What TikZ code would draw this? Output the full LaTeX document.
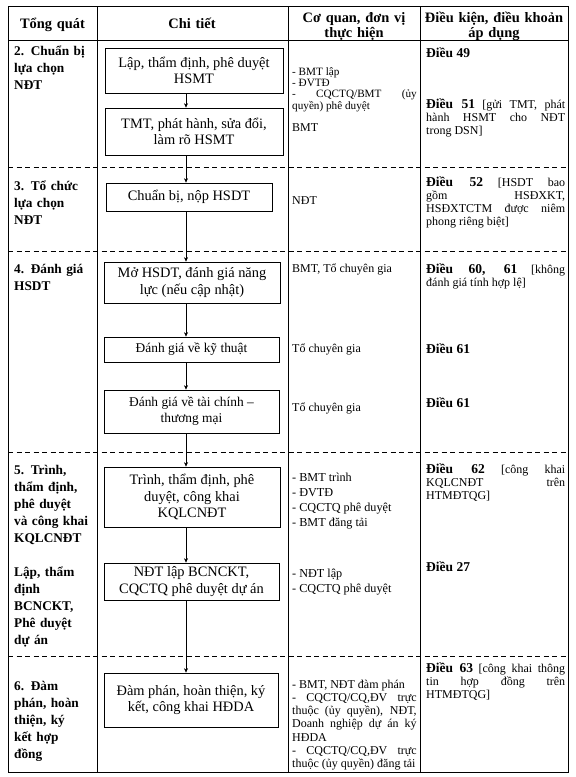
\documentclass[tikz,border=0pt]{standalone}
\usepackage{fontspec}
\setmainfont{Liberation Serif}
\usetikzlibrary{arrows.meta}
\newcommand\tightset{\lineskiplimit=-30pt \hyphenpenalty=10000 \exhyphenpenalty=10000 }
\newcommand\boxfnt{\fontsize{14.4}{16.5}\selectfont\tightset}
\newcommand\boxsmfnt{\fontsize{13.4}{16}\selectfont\tightset}
\newcommand\hdrfnt{\bfseries\fontsize{14.4}{15}\selectfont\tightset}
\newcommand\colfnt{\bfseries\fontsize{13.3}{17}\selectfont\tightset}
\newcommand\smfnt{\fontsize{12}{13.3}\selectfont\tightset}
\newcommand\tinyfnt{\fontsize{11.2}{11.4}\selectfont\tightset}
\newcommand\midfnt{\fontsize{12.2}{15.3}\selectfont\tightset}
\newcommand\dieu[1]{{\bfseries\fontsize{13.5}{13}\selectfont #1}}
\begin{document}
\begin{tikzpicture}[x=1pt,y=-1pt,
  rule/.style={line width=0.8pt},
  dashrule/.style={line width=0.7pt, dash pattern=on 5pt off 3.5pt},
  box/.style={draw, line width=0.7pt, inner sep=0pt, align=center, font=\boxfnt},
  hdr/.style={anchor=base, inner sep=0pt, align=center, font=\hdrfnt},
  stage/.style={anchor=base west, inner sep=0pt, text width=84pt, align=left, font=\colfnt},
  agency/.style={anchor=base west, inner sep=0pt, text width=124.5pt, align=justify, font=\smfnt},
  clause/.style={anchor=base west, inner sep=0pt, text width=139pt, align=justify, font=\smfnt},
  arr/.style={-{Stealth[length=4.5pt,width=4pt]}, line width=0.6pt}
]
\useasboundingbox (0,0) rectangle (576,777);

% table rules
\draw[rule] (8,6) rectangle (568,772);
\draw[rule] (8,40) -- (568,40);
\foreach \xx in {97,288,420} \draw[rule] (\xx,6) -- (\xx,772);
\foreach \yy in {167,251,452,656} \draw[dashrule] (8,\yy) -- (568,\yy);

% header
\node[hdr, text width=86pt] (h1) at (52.5,28) {Tổng quát};
\node[hdr, text width=180pt] (h2) at (192,28) {Chi tiết};
\node[hdr, text width=128pt] (h3) at (354,22) {Cơ quan, đơn vị\\thực hiện};
\node[hdr, text width=146pt] (h4) at (494,22) {Điều kiện, điều khoản\\áp dụng};

% column 1
\node[stage] (s2) at (14,55) {2. Chuẩn bị\\lựa chọn\\NĐT};
\node[stage] (s3) at (14,190) {3. Tổ chức\\lựa chọn\\NĐT};
\node[stage] (s4) at (14,273) {4. Đánh giá\\HSDT};
\node[stage] (s5) at (14,474) {5. Trình,\\thẩm định,\\phê duyệt\\và công khai\\KQLCNĐT\\[17pt]Lập, thẩm\\định\\BCNCKT,\\Phê duyệt\\dự án};
\node[stage] (s6) at (14,690) {6. Đàm\\phán, hoàn\\thiện, ký\\kết hợp\\đồng};

% column 2: boxes
\coordinate (ax) at (186,0);
\node[box, minimum width=178pt, minimum height=45pt] (b1) at (194,70.5) {Lập, thẩm định, phê duyệt\\HSMT};
\node[box, minimum width=178pt, minimum height=47pt] (b2) at (194,131.5) {TMT, phát hành, sửa đổi,\\làm rõ HSMT};
\node[box, minimum width=166pt, minimum height=28pt] (b3) at (189,197) {Chuẩn bị, nộp HSDT};
\node[box, minimum width=176pt, minimum height=41pt] (b4) at (192,282.5) {Mở HSDT, đánh giá năng\\lực (nếu cập nhật)};
\node[box, font=\boxsmfnt, minimum width=175pt, minimum height=25pt] (b5) at (191.5,349.5) {Đánh giá về kỹ thuật};
\node[box, font=\boxsmfnt, minimum width=175pt, minimum height=43pt] (b6) at (191.5,411.5) {Đánh giá về tài chính –\\thương mại};
\node[box, minimum width=176pt, minimum height=60pt] (b7) at (192,497) {Trình, thẩm định, phê\\duyệt, công khai\\KQLCNĐT};
\node[box, minimum width=175pt, minimum height=37pt] (b8) at (191.5,581.5) {NĐT lập BCNCKT,\\CQCTQ phê duyệt dự án};
\node[box, minimum width=174pt, minimum height=54pt] (b9) at (191,700) {Đàm phán, hoàn thiện, ký\\kết, công khai HĐDA};

\draw[arr] (b1.south -| ax) -- (b2.north -| ax);
\draw[arr] (b2.south -| ax) -- (b3.north -| ax);
\draw[arr] (b3.south -| ax) -- (b4.north -| ax);
\draw[arr] (b4.south -| ax) -- (b5.north -| ax);
\draw[arr] (b5.south -| ax) -- (b6.north -| ax);
\draw[arr] (b6.south -| ax) -- (b7.north -| ax);
\draw[arr] (b7.south -| ax) -- (b8.north -| ax);
\draw[arr] (b8.south -| ax) -- (b9.north -| ax);

% column 3
\node[agency, font=\tinyfnt] (a2) at (292,75) {- BMT lập\\- ĐVTĐ\\- CQCTQ/BMT (ủy\linebreak quyền) phê duyệt};
\node[agency] (a2b) at (292,131) {BMT};
\node[agency] (a3) at (292,204) {NĐT};
\node[agency] (a4) at (292,272) {BMT, Tổ chuyên gia};
\node[agency] (a4b) at (292,352) {Tổ chuyên gia};
\node[agency] (a4c) at (292,411) {Tổ chuyên gia};
\node[agency, font=\midfnt] (a5) at (292,481) {- BMT trình\\- ĐVTĐ\\- CQCTQ phê duyệt\\- BMT đăng tải};
\node[agency, font=\midfnt] (a5b) at (292,577) {- NĐT lập\\- CQCTQ phê duyệt};
\node[agency] (a6) at (292,688) {- BMT, NĐT đàm phán\\- CQCTQ/CQ,ĐV trực\linebreak thuộc (ủy quyền), NĐT,\linebreak Doanh nghiệp dự án ký\linebreak HĐDA\\- CQCTQ/CQ,ĐV trực\linebreak thuộc (ủy quyền) đăng tải};

% column 4
\node[clause] (c2a) at (426,57) {\dieu{Điều 49}};
\node[clause] (c2b) at (426,108) {\dieu{Điều 51} [gửi TMT, phát\linebreak hành HSMT cho NĐT\linebreak trong DSN]};
\node[clause] (c3) at (426,186) {\dieu{Điều 52} [HSDT bao\linebreak gồm HSĐXKT,\linebreak HSĐXTCTM được niêm\linebreak phong riêng biệt]};
\node[clause] (c4a) at (426,273) {\dieu{Điều 60, 61} [không\linebreak đánh giá tính hợp lệ]};
\node[clause] (c4b) at (426,353) {\dieu{Điều 61}};
\node[clause] (c4c) at (426,407) {\dieu{Điều 61}};
\node[clause] (c5a) at (426,473) {\dieu{Điều 62} [công khai\linebreak KQLCNĐT trên\linebreak HTMĐTQG]};
\node[clause] (c5b) at (426,571) {\dieu{Điều 27}};
\node[clause] (c6) at (426,672) {\dieu{Điều 63} [công khai thông\linebreak tin hợp đồng trên\linebreak HTMĐTQG]};
\end{tikzpicture}
\end{document}
